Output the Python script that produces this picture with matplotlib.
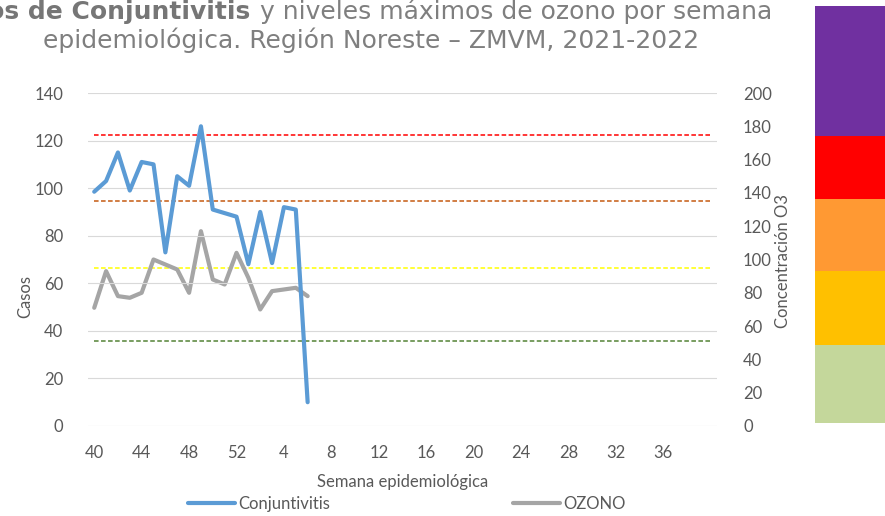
import numpy as np
import matplotlib.pyplot as plt

# -------------------------------
# Data
# -------------------------------
semanas = [str(w) for w in list(range(40, 53)) + list(range(1, 41))]

conjuntivitis = [98.5, 103, 115, 99, 111, 110, 73, 105, 101, 126,
                 91, 89.5, 88, 68, 90, 68.5, 92, 91, 10]

ozono = [71, 93, 78, 77, 80, 100, 97, 94, 80, 117,
         88, 85, 104, 89, 70, 81, 82, 83, 78]

# ozone index thresholds (ppb) -> dashed lines
umbrales = [175, 135, 95, 51]
umbral_colores = ['#FF0000', '#C55A11', '#FFFF00', '#548235']

# colour blocks at the right (ozone units, low/high)
bloques_lo = [2, 48.6, 93.3, 136.3, 174.2]
bloques_hi = [48.6, 94.5, 136.3, 183.2, 252.3]
bloques_col = ['#C4D79B', '#FFC000', '#FF9933', '#FF0000', '#7030A0']

# -------------------------------
# Figure / axes
# -------------------------------
W, H = 885, 516
fig = plt.figure(figsize=(W / 100, H / 100), dpi=100)
plt.rcParams['font.family'] = ['Lato', 'DejaVu Sans']
txt = '#595959'

left, right, bottom, top = 88.3 / W, 716.7 / W, 1 - 426 / H, 1 - 93 / H
ax1 = fig.add_axes([left, bottom, right - left, top - bottom])
ax2 = ax1.twinx()
ax1.set_zorder(ax2.get_zorder() + 1)
ax1.patch.set_visible(False)

x = np.arange(len(semanas))
xc = np.arange(len(conjuntivitis))

# dashed thresholds + ozone on right axis
for u, c in zip(umbrales, umbral_colores):
    ax2.plot([x[0], x[-1]], [u, u], color=c, lw=1.1, ls=(0, (3, 1.6)), zorder=1)
ax2.plot(xc, ozono, color='#A5A5A5', lw=3, solid_joinstyle='round',
         solid_capstyle='round', zorder=3, label='OZONO')

# cases on left axis
ax1.plot(xc, conjuntivitis, color='#5B9BD5', lw=3, solid_joinstyle='round',
         solid_capstyle='round', zorder=3, label='Conjuntivitis')

ax1.set_xlim(-0.5, len(semanas) - 0.5)
ax1.set_ylim(0, 140)
ax2.set_ylim(0, 200)
ax1.set_yticks(np.arange(0, 141, 20))
ax2.set_yticks(np.arange(0, 201, 20))
ax1.set_xticks(x[:-1:4])
ax1.set_xticklabels(semanas[:-1:4])

ax1.grid(axis='y', color='#D9D9D9', lw=0.8)
ax1.set_axisbelow(True)
for a in (ax1, ax2):
    for s in a.spines.values():
        s.set_visible(False)
    a.tick_params(length=0, labelsize=12, colors=txt)
ax1.tick_params(axis='x', pad=14)
ax1.tick_params(axis='y', pad=18)
ax2.tick_params(axis='y', pad=19)

# axis labels
fig.text(25 / W, 1 - 297 / H, 'Casos', rotation=90, ha='center', va='center',
         fontsize=12, color=txt)
fig.text(783 / W, 1 - 261 / H, 'Concentración O3', rotation=90, ha='center',
         va='center', fontsize=12, color=txt)
fig.text((left + right) / 2, 1 - 482 / H, 'Semana epidemiológica',
         ha='center', va='center', fontsize=12, color=txt)

# legend
h1, l1 = ax1.get_legend_handles_labels()
h2, l2 = ax2.get_legend_handles_labels()
fig.legend(h1 + h2, l1 + l2, loc='center', ncol=2, frameon=False,
           bbox_to_anchor=(407 / W, 1 - 504 / H), fontsize=12,
           labelcolor=txt, handlelength=2.8, handletextpad=0.2,
           columnspacing=11.0, borderpad=0)

# title (cut at left like the reference)
tcol = '#7f7f7f'
fig.text(250 / W, 1 - 19.5 / H, 'Casos de Conjuntivitis', ha='right',
         va='baseline', fontsize=18, fontweight='bold', color='#767676',
         family='DejaVu Sans')
fig.text(252 / W, 1 - 19.5 / H, ' y niveles máximos de ozono por semana',
         ha='left', va='baseline', fontsize=18, color=tcol,
         family='DejaVu Sans')
fig.text(371.5 / W, 1 - 48 / H,
         'epidemiológica. Región Noreste – ZMVM, 2021-2022',
         ha='center', va='baseline', fontsize=18, color=tcol,
         family='DejaVu Sans')

# colour blocks on the right, same scale as the ozone axis
px_per_unit = (top - bottom) * H / 200
ax3 = fig.add_axes([814.5 / W, 0, 1 - 814.5 / W, 1])
ax3.set_xlim(0, 1)
ax3.set_ylim(-bottom * H / px_per_unit, (1 - bottom) * H / px_per_unit)
for lo, hi, c in zip(bloques_lo, bloques_hi, bloques_col):
    ax3.bar(0, hi - lo, bottom=lo, width=1, align='edge', color=c, lw=0)
ax3.axis('off')

fig.savefig('out.png', dpi=100)
